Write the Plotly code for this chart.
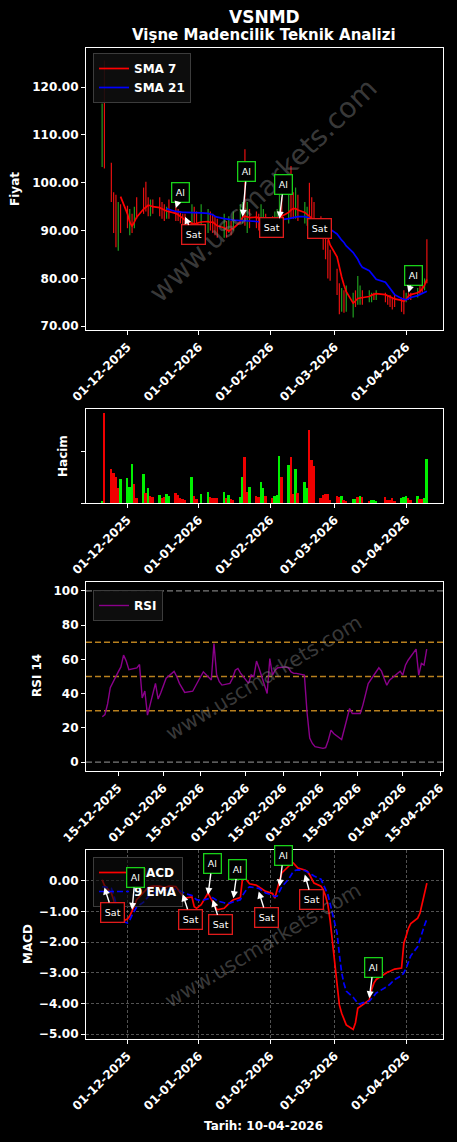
import plotly.graph_objects as go

W, H = 457, 1142

# ---------------- data ----------------
month_days = [
    ("2025-11", [20, 21, 24, 25, 26, 27, 28]),
    ("2025-12", [1, 2, 3, 4, 5, 8, 9, 10, 11, 12, 15, 16, 17, 18, 19, 22, 23, 24, 25, 26, 29, 30, 31]),
    ("2026-01", [2, 5, 6, 7, 8, 9, 12, 13, 14, 15, 16, 19, 20, 21, 22, 23, 26, 27, 28, 29, 30]),
    ("2026-02", [2, 3, 4, 5, 6, 9, 10, 11, 12, 13, 16, 17, 18, 19, 20, 23, 24, 25, 26, 27]),
    ("2026-03", [2, 3, 4, 5, 6, 9, 10, 11, 12, 13, 16, 17, 18, 19, 23, 24, 25, 26, 27, 30, 31]),
    ("2026-04", [1, 2, 3, 6, 7, 8, 9, 10]),
]
dates = [f"{ym}-{d:02d}" for ym, days in month_days for d in days]

high = [116.6, 125.6, 104.2, 98.0, 97.5, 96.0, 95.5,
        95.2, 94.5, 93.5, 95.0, 97.0,
        99.0, 100.2, 97.0, 96.5, 96.5,
        97.0, 96.0, 95.5, 95.0, 96.5,
        95.0, 94.5, 94.0, 93.5, 93.5,
        95.5, 95.0, 94.0,
        95.5,
        94.5, 94.0, 93.5, 93.0, 92.5,
        93.5, 92.0, 93.0, 92.0, 94.0,
        95.5, 96.0, 107.0, 96.0, 94.5,
        94.0, 93.5, 95.5, 94.5, 93.5,
        93.0, 94.0, 94.5, 98.0, 97.0,
        99.0, 103.5, 98.0, 99.0, 97.5,
        96.0, 95.0, 100.0, 97.0, 96.0,
        93.0, 91.0, 89.5, 88.0, 86.0,
        82.0, 79.0, 78.0, 77.5, 78.5,
        77.0, 77.5, 80.5, 78.5, 77.5,
        77.5, 77.0, 77.0, 77.5,
        77.0, 76.5, 76.5, 76.0, 76.5,
        76.0, 77.5,
        77.0, 77.0, 77.0,
        78.0, 78.5, 79.0, 80.0, 88.2]
low = [103.3, 103.0, 96.0, 89.5, 86.5, 85.8, 89.5,
       90.5, 89.0, 89.5, 90.5, 92.5,
       93.5, 94.0, 93.0, 93.0, 93.5,
       93.0, 92.5, 92.0, 92.5, 92.5,
       92.0, 92.0, 91.5, 91.0, 90.5,
       89.0, 90.5, 90.5,
       90.0,
       89.5, 90.0, 89.5, 89.0, 88.5,
       88.5, 88.5, 89.5, 89.0, 90.0,
       91.5, 91.5, 91.0, 89.5, 90.5,
       90.5, 90.0, 90.5, 90.0, 90.5,
       89.5, 90.5, 91.0, 91.5, 91.0,
       91.5, 92.5, 92.5, 92.5, 92.0,
       91.5, 91.0, 91.5, 90.5, 90.0,
       88.5, 86.0, 84.0, 80.0, 79.5,
       76.5, 72.5, 73.0, 72.8, 73.0,
       71.8, 74.0, 74.5, 74.5, 74.5,
       75.0, 75.0, 75.5, 75.5,
       75.0, 74.5, 74.0, 73.5, 74.0,
       73.0, 72.5,
       75.0, 75.5, 75.5,
       76.0, 76.5, 77.0, 77.5, 79.0]
candle_dir = list("grrrrgr" "rgrgr" "rrrgr" "rrrgr" "rrrrr" "grr" "g" "grrrr" "grgrg"
                  "ggrgr" "rrggr" "rgggr" "grrgr" "ggrrr" "rrrrr" "rrgrg" "grggr" "ggrg"
                  "rrrrr" "rr" "grr" "grrgr")

sma7 = [None, None, None, None, None, None, 97.1,
        93.5, 91.8, 90.9, 91.8, 92.8,
        94.5, 95.0, 95.3, 95.2, 95.0,
        94.8, 94.5, 94.3, 94.1, 94.0,
        93.6, 93.3, 93.0, 92.6, 92.2,
        91.6, 91.3, 91.5,
        91.8,
        91.9, 91.7, 91.8, 91.4, 91.0,
        90.6, 90.2, 89.9, 90.3, 90.5,
        91.8, 92.8, 93.0, 92.8, 92.7,
        92.8, 92.6, 92.4, 92.3, 92.2,
        92.0, 92.1, 92.3, 92.6, 93.0,
        93.8, 94.3, 94.6, 94.6, 94.3,
        93.8, 93.4, 93.0, 92.5, 92.2,
        91.6, 90.8, 89.8, 88.5, 87.0,
        84.5, 82.0, 80.3, 78.6, 77.2,
        74.8, 75.3, 75.8, 75.9, 76.0,
        76.2, 76.5, 76.7, 76.8,
        76.6, 76.4, 76.1, 75.9, 75.7,
        75.4, 75.2,
        75.6, 76.3, 76.6,
        77.0, 77.3, 77.8, 78.6, 79.8]
sma21 = [None] * 20 + [94.6, 94.4,
         94.0, 93.9, 93.9, 93.8, 93.8,
         93.8, 93.8, 93.8,
         93.7,
         93.6, 93.5, 93.3, 93.0, 92.8,
         92.5, 92.4, 92.3, 92.2, 92.2,
         92.1, 92.1, 92.0, 92.0, 92.0,
         91.9, 91.8, 91.8, 91.7, 91.7,
         91.8, 91.9, 92.0, 92.1, 92.3,
         92.5, 92.6, 92.7, 92.8, 92.9,
         92.9, 92.8, 92.6, 92.3, 92.0,
         91.4, 91.0, 90.7, 90.5, 90.3,
         89.3, 88.6, 88.0, 87.5, 86.8,
         85.4, 84.7, 84.0, 83.0, 82.3,
         81.6, 81.0, 80.4, 79.8,
         79.2, 78.6, 78.0, 77.2, 76.6,
         75.8, 75.6,
         75.5, 75.8, 76.0,
         76.4, 76.6, 76.8, 77.0, 77.3]

volume = [0.4, 17.5, 6.6, 5.8, 5.1, 2.9, 4.7,
          4.9, 3.2, 7.6, 3.7, 1.0,
          5.7, 1.9, 3.0, 1.4, 1.2,
          1.6, 1.0, 1.2, 1.7, 1.4,
          1.9, 1.6, 0.9, 0.7, 0.6,
          5.1, 1.4, 0.8,
          1.7,
          2.2, 1.2, 1.0, 1.0, 1.0,
          2.1, 1.0, 1.6, 0.8, 0.5,
          1.2, 5.1, 9.0, 2.2, 3.1,
          1.4, 1.2, 4.0, 3.0, 1.4,
          0.9, 1.4, 1.6, 9.1, 5.0,
          7.4, 8.9, 1.7, 6.6, 1.9,
          4.0, 2.9, 14.3, 8.4, 7.3,
          0.9, 1.6, 1.7, 1.7, 0.5,
          1.4, 1.2, 1.4, 0.6, 0.4,
          0.8, 0.7, 1.2, 1.4, 1.2,
          0.4, 0.5, 0.65, 0.3,
          1.1, 0.6, 0.6, 0.9, 0.3,
          0.9, 1.2,
          1.4, 1.0, 0.6,
          1.4, 0.8, 0.8, 0.9, 8.5]
volume_dir = list("grrrrrg" "gggrr" "grgrr" "grrgg" "rrrrr" "grr" "g" "grrrr" "grgrr"
                  "ggrrg" "rrggr" "rgggr" "grrgr" "ggrrr" "rrrrr" "rrgrr" "ggrgr" "rggg"
                  "rrrrr" "gg" "grr" "grrgg")

rsi = [None] * 13 + [26.5, 27.8, 34.0, 43.5,
       52.7, 55.6, 62.5, 59.0, 54.0,
       55.0, 57.0, 37.5, 41.5, 27.4,
       46.0, 36.8, 40.5,
       49.0,
       53.0, 50.0, 46.0, 43.0, 40.7,
       41.4, 44.0, 47.0, 50.0, 52.7,
       48.0, 69.3, 51.0, 47.0, 45.0,
       46.0, 49.0, 53.7, 54.7, 52.0,
       46.0, 51.0, 50.0, 59.0, 54.7,
       40.1, 60.5, 50.8, 53.7, 55.1,
       55.6, 55.1, 52.7, 51.8, 51.8,
       50.8, 29.0, 14.0, 10.9, 9.0,
       8.0, 8.4, 12.8, 18.7, 16.7,
       13.2, 19.6, 25.5, 31.3, 28.4,
       28.4, 33.3, 40.1, 45.9,
       55.1, 53.1, 48.8, 44.9, 47.9,
       51.8, 53.1,
       50.8, 56.6, 59.5,
       66.0, 50.8, 57.6, 56.6, 66.0]
rsi_levels = [0, 30, 50, 70, 100]

macd = [0.03, -0.15, -0.40, -0.62, -0.95, -1.25, -1.35,
        -1.25, -1.15, -1.00, -0.82, -0.62,
        -0.38, -0.28, -0.22, -0.19, -0.18,
        -0.18, -0.20, -0.22, -0.20, -0.18,
        -0.19, -0.30, -0.42, -0.50, -0.57,
        -0.53, -0.85, -0.90,
        -0.78,
        -0.40, -0.55, -0.70, -0.85, -0.95,
        -0.90, -0.84, -0.75, -0.68, -0.62,
        -0.55, 0.09, 0.09, -0.02, -0.10,
        -0.15, -0.20, -0.25, -0.29, -0.35,
        -0.42, -0.57, -0.29, 0.00, 0.25,
        0.47, 0.55, 0.58, 0.48, 0.41,
        0.35, 0.31, 0.20, 0.05, -0.08,
        -0.18, -0.29, -0.50, -0.78, -1.30,
        -3.45, -4.05, -4.32, -4.54, -4.70,
        -4.85, -4.63, -4.16, -4.10, -4.05,
        -3.89, -3.55, -3.34, -3.22,
        -3.02, -2.98, -2.95, -2.91, -2.88,
        -2.85, -2.04,
        -1.80, -1.55, -1.40,
        -1.22, -1.06, -0.70, -0.40, -0.08]
signal = [-0.20, -0.20, -0.25, -0.45, -0.75, -1.05, -1.30,
          -1.38, -1.28, -1.12, -0.98, -0.86,
          -0.70, -0.60, -0.52, -0.45, -0.40,
          -0.35, -0.32, -0.30, -0.30, -0.29,
          -0.28, -0.30, -0.33, -0.38, -0.42,
          -0.48, -0.55, -0.62,
          -0.65,
          -0.58, -0.55, -0.55, -0.60, -0.66,
          -0.72, -0.75, -0.74, -0.72, -0.68,
          -0.62, -0.48, -0.35, -0.25, -0.20,
          -0.22, -0.25, -0.30, -0.35, -0.40,
          -0.47, -0.52, -0.50, -0.35, -0.20,
          0.05, 0.20, 0.30, 0.34, 0.35,
          0.33, 0.30, 0.25, 0.20, 0.15,
          0.05, -0.10, -0.28, -0.45, -0.75,
          -1.70, -2.40, -3.00, -3.35, -3.60,
          -3.80, -3.92, -4.00, -4.02, -3.98,
          -3.93, -3.86, -3.76, -3.66,
          -3.50, -3.44, -3.37, -3.30, -3.22,
          -3.10, -3.00,
          -2.85, -2.65, -2.45,
          -2.15, -1.90, -1.65, -1.45, -1.25]

price_sig_dates = ["2025-12-22", "2025-12-26", "2026-01-20", "2026-02-02", "2026-02-05", "2026-02-20", "2026-04-02"]
price_sig_values = [94.7, 92.9, 92.9, 92.5, 92.5, 92.2, 77.0]
price_sig_types = ["Al", "Sat", "Al", "Sat", "Al", "Sat", "Al"]

macd_sig_dates = ["2025-11-21", "2025-12-03", "2025-12-25", "2026-01-05", "2026-01-07",
                  "2026-01-16", "2026-01-27", "2026-02-05", "2026-02-16", "2026-03-16"]
macd_sig_values = [-0.22, -0.95, -0.44, -0.46, -0.62, -0.57, -0.35, -0.19, 0.20, -3.83]
macd_sig_types = ["Sat", "Al", "Sat", "Al", "Sat", "Al", "Sat", "Al", "Sat", "Al"]

month_ticks = ["2025-12-01", "2026-01-01", "2026-02-01", "2026-03-01", "2026-04-01"]
rsi_ticks = ["2025-12-15", "2026-01-01", "2026-01-15", "2026-02-01", "2026-02-15",
             "2026-03-01", "2026-03-15", "2026-04-01", "2026-04-15"]
price_ticks = [70, 80, 90, 100, 110, 120]
rsi_yticks = [0, 20, 40, 60, 80, 100]
macd_ticks = [0, -1, -2, -3, -4, -5]

# ---------------- layout helpers (pixel -> paper) ----------------
def fx(p):
    return p / W


def fy(p):
    return 1 - p / H


FONT = "DejaVu Sans"
RED = "#ff0000"
GREEN_C = "#1f9e1f"
BLUE = "#0000ff"

fig = go.Figure()

# candles (high-low wicks)
for want, col in (("g", GREEN_C), ("r", "#e81010")):
    xs, ys = [], []
    for d, h, l, c in zip(dates, high, low, candle_dir):
        if c == want:
            xs += [d, d, None]
            ys += [l, h, None]
    fig.add_trace(go.Scatter(x=xs, y=ys, mode="lines", line=dict(color=col, width=1.2),
                             showlegend=False, hoverinfo="skip", xaxis="x", yaxis="y"))

fig.add_trace(go.Scatter(x=dates, y=sma7, mode="lines", name="SMA 7",
                         line=dict(color=RED, width=1.7), xaxis="x", yaxis="y", legend="legend"))
fig.add_trace(go.Scatter(x=dates, y=sma21, mode="lines", name="SMA 21",
                         line=dict(color=BLUE, width=1.7), xaxis="x", yaxis="y", legend="legend"))

# volume
fig.add_trace(go.Bar(x=dates, y=volume, width=0.85 * 86400000,
                     marker=dict(color=["#00f000" if c == "g" else "#f00000" for c in volume_dir],
                                 line=dict(width=0)),
                     showlegend=False, xaxis="x2", yaxis="y2"))

# RSI
fig.add_trace(go.Scatter(x=dates, y=rsi, mode="lines", name="RSI",
                         line=dict(color="#8b008b", width=1.4), xaxis="x3", yaxis="y3", legend="legend2"))

# MACD
fig.add_trace(go.Scatter(x=dates, y=macd, mode="lines", name="MACD",
                         line=dict(color=RED, width=1.7), xaxis="x4", yaxis="y4", legend="legend3"))
fig.add_trace(go.Scatter(x=dates, y=signal, mode="lines", name="9 EMA",
                         line=dict(color=BLUE, width=1.7, dash="6px,3px"), xaxis="x4", yaxis="y4",
                         legend="legend3"))

tick_font = dict(family=FONT, size=12, color="white", weight="bold")
axis_common = dict(showline=True, linecolor="white", linewidth=1.2, mirror=True,
                   ticks="outside", ticklen=4, tickwidth=1, tickcolor="white",
                   tickfont=tick_font, showgrid=False, zeroline=False, automargin=False)
x_dom = [fx(86), fx(443)]
main_range = ["2025-11-13", "2026-04-17"]
rsi_range = ["2025-12-02 21:00", "2026-04-16 03:00"]

xdate = dict(axis_common, type="date", tickformat="%d-%m-%Y", tickangle=-45, domain=x_dom)

legend_common = dict(xanchor="left", yanchor="top", bgcolor="rgba(14,14,14,0.9)",
                     bordercolor="#3c3c3c", borderwidth=1,
                     font=dict(family=FONT, size=12, color="white", weight="bold"),
                     tracegroupgap=0, itemwidth=30)

fig.update_layout(
    width=W, height=H, template="none",
    paper_bgcolor="black", plot_bgcolor="black",
    margin=dict(l=0, r=0, t=0, b=0),
    font=dict(family=FONT, color="white"),
    showlegend=True, bargap=0,
    xaxis=dict(xdate, anchor="y", range=main_range, tickvals=month_ticks),
    yaxis=dict(axis_common, domain=[fy(330), fy(48)], anchor="x", range=[69.2, 128.2],
               tickvals=price_ticks, tickformat=".2f"),
    xaxis2=dict(xdate, anchor="y2", range=main_range, tickvals=month_ticks),
    yaxis2=dict(axis_common, domain=[fy(503), fy(409)], anchor="x2", range=[0, 18.3],
                tickvals=[0, 10], ticktext=["", ""]),
    xaxis3=dict(xdate, anchor="y3", range=rsi_range, tickvals=rsi_ticks),
    yaxis3=dict(axis_common, domain=[fy(771), fy(582)], anchor="x3", range=[-5.2, 105.2],
                tickvals=rsi_yticks),
    xaxis4=dict(xdate, anchor="y4", range=main_range, tickvals=month_ticks,
                showgrid=True, gridcolor="rgba(150,150,150,0.55)", gridwidth=0.6, griddash="3px,2px"),
    yaxis4=dict(axis_common, domain=[fy(1039), fy(850)], anchor="x4", range=[-5.16, 1.0],
                tickvals=macd_ticks, tickformat=".2f",
                showgrid=True, gridcolor="rgba(150,150,150,0.55)", gridwidth=0.6, griddash="3px,2px"),
    legend=dict(legend_common, x=fx(93), y=fy(53)),
    legend2=dict(legend_common, x=fx(93), y=fy(590)),
    legend3=dict(legend_common, x=fx(93), y=fy(857), bgcolor="rgba(14,14,14,0.6)"),
)

# RSI reference lines
shapes = []
for lv in rsi_levels:
    col = "#7a7a7a" if lv in (0, 100) else "#b8801e"
    shapes.append(dict(type="line", xref="x3 domain", x0=0, x1=1, yref="y3", y0=lv, y1=lv,
                       line=dict(color=col, width=1.3, dash="6px,3px"), layer="below"))
fig.update_layout(shapes=shapes)

annotations = []


def paper_text(txt, px, py, size, bold=True, angle=0, color="white"):
    f = dict(family=FONT, size=size, color=color)
    if bold:
        f["weight"] = "bold"
    return dict(text=txt, xref="paper", yref="paper", x=fx(px), y=fy(py),
                xanchor="center", yanchor="middle", textangle=angle,
                showarrow=False, font=f)


annotations.append(paper_text("VSNMD", 264, 17, 17))
annotations.append(paper_text("Vişne Madencilik Teknik Analizi", 264, 35, 15))
for txt, px, py in (("Fiyat", 15, 189), ("Hacim", 63, 456), ("RSI 14", 37, 676), ("MACD", 28, 944)):
    annotations.append(paper_text(txt, px, py, 12, angle=-90))
annotations.append(paper_text("Tarih: 10-04-2026", 263, 1126, 12))
for cx, cy, ang, sz in ((262.5, 190, -44.4, 28), (263.5, 678, -30.8, 20.5), (263.3, 945, -30.7, 20.5)):
    annotations.append(paper_text("www.uscmarkets.com", cx, cy, sz, bold=False, angle=ang,
                                  color="rgba(128,128,128,0.45)"))


def sig_ann(x, y, kind, ax, ay, xr, yr):
    return dict(x=x, y=y, xref=xr, yref=yr, text=kind, showarrow=True,
                ax=ax, ay=ay, arrowhead=2, arrowsize=1, arrowwidth=1.4, arrowcolor="white",
                font=dict(family=FONT, size=9.5, color="white"),
                bgcolor="black", bordercolor="#19d119" if kind == "Al" else "#e01b1b",
                borderwidth=1.3, borderpad=3.5)


price_offsets = [(5, -16), (8, 18), (4, -45), (-1, 9), (4, -34), (5, 8), (5, -17)]
for d, v, k, (ax, ay) in zip(price_sig_dates, price_sig_values, price_sig_types, price_offsets):
    annotations.append(sig_ann(d, v, k, ax, ay, "x", "y"))

macd_offsets = [(8, 25), (3, -32), (8, 25), (4, -31), (8, 25), (4, -29), (8, 26), (4, -31), (7, 25), (4, -31)]
for d, v, k, (ax, ay) in zip(macd_sig_dates, macd_sig_values, macd_sig_types, macd_offsets):
    annotations.append(sig_ann(d, v, k, ax, ay, "x4", "y4"))

fig.update_layout(annotations=annotations)

fig.write_html("out.html", config={"displayModeBar": False},
               post_script="document.body.style.margin='0';document.body.style.background='black';")
